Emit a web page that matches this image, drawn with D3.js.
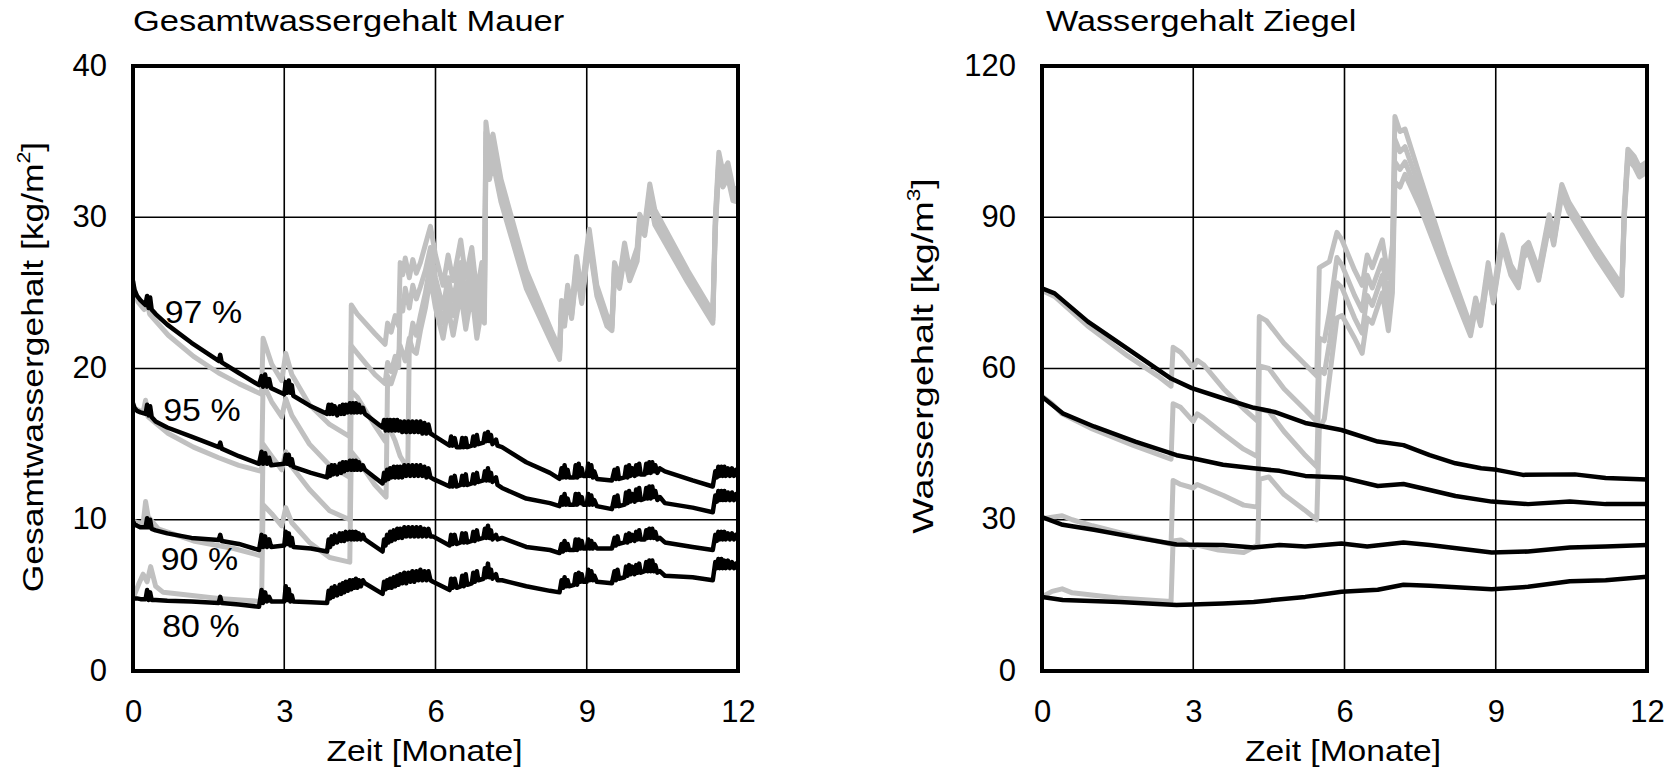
<!DOCTYPE html>
<html>
<head>
<meta charset="utf-8">
<script src="https://cdn.jsdelivr.net/npm/d3@7"></script>
<style>
  html, body { margin: 0; padding: 0; background: #fff; }
  svg { display: block; }
  text { font-family: "Liberation Sans", Arial, Helvetica, sans-serif; fill: #000; }
</style>
</head>
<body>
<svg id="chart" width="1673" height="770"></svg>
<script>
// ---- axis ticks ----
const monthTicks = [0, 3, 6, 9, 12];
const mauerTicks = [0, 10, 20, 30, 40];
const ziegelTicks = [0, 30, 60, 90, 120];

// ---- Gesamtwassergehalt Mauer [kg/m2]: common time axis [Monate] of the black series ----
const mauerZeit = [
  0, 0.03, 0.08, 0.15, 0.25, 0.28, 0.31, 0.34, 0.37, 0.45,
  0.68, 1.16, 1.7, 1.73, 1.76, 2.1, 2.5,
  2.55, 2.58, 2.62, 2.66, 2.7, 2.74,
  3.0, 3.03, 3.06, 3.09, 3.12, 3.15, 3.18, 3.53,
  3.85, 3.88, 3.91, 3.94, 3.97, 4.0, 4.05, 4.1, 4.13, 4.16,
  4.19, 4.22, 4.26, 4.3, 4.33, 4.36, 4.39, 4.42, 4.45, 4.48,
  4.52, 4.56, 4.6, 4.95,
  4.98, 5.01, 5.04, 5.07, 5.1, 5.13, 5.17, 5.2, 5.24, 5.27,
  5.3, 5.34, 5.38, 5.42, 5.46, 5.5, 5.54, 5.58, 5.62, 5.66,
  5.7, 5.74, 5.78, 5.82, 5.86, 5.9, 5.95, 6.28,
  6.31, 6.34, 6.38, 6.42, 6.5, 6.53, 6.56, 6.6, 6.63, 6.72,
  6.75, 6.78, 6.82, 6.85, 6.95, 6.98, 7.01, 7.04, 7.07, 7.1,
  7.13, 7.2, 7.23, 7.32, 7.8, 8.27, 8.46,
  8.5, 8.53, 8.56, 8.59, 8.62, 8.65, 8.75, 8.78, 8.81, 8.84,
  8.87, 8.9, 8.93, 9.0, 9.03, 9.06, 9.09, 9.12, 9.15, 9.2,
  9.5, 9.55, 9.58, 9.61, 9.64, 9.75, 9.78, 9.81, 9.84, 9.87,
  9.9, 9.95, 9.98, 10.01, 10.04, 10.07, 10.15, 10.18, 10.21, 10.24,
  10.27, 10.3, 10.33, 10.36, 10.4, 10.45, 10.55, 11.1, 11.5,
  11.55, 11.58, 11.61, 11.64, 11.67, 11.7, 11.73, 11.76, 11.8, 11.84,
  11.88, 11.92, 11.96, 12
];
const mauer97 = [
  25.8, 25.2, 24.8, 24.5, 24.2, 24.8, 24.0, 24.7, 23.9, 23.6,
  22.9, 21.7, 20.5, 20.9, 20.4, 19.7, 18.9,
  19.5, 18.8, 19.6, 18.8, 19.3, 18.7,
  18.3, 19.1, 18.4, 19.2, 18.4, 18.9, 18.2, 17.5,
  17.0, 17.6, 17.0, 17.6, 17.0, 17.5, 16.9, 17.5, 17.0, 17.6,
  17.0, 17.6, 17.1, 17.7, 17.1, 17.7, 17.1, 17.7, 17.1, 17.6,
  17.1, 17.4, 17.0, 16.1,
  16.6, 15.9, 16.6, 15.9, 16.6, 15.9, 16.6, 15.9, 16.6, 15.9,
  16.5, 15.8, 16.5, 15.8, 16.5, 15.8, 16.5, 15.8, 16.5, 15.8,
  16.5, 15.7, 16.4, 15.7, 16.3, 15.7, 15.6, 14.9,
  15.5, 14.9, 15.4, 14.8, 14.8, 15.4, 14.8, 15.4, 14.8, 14.9,
  15.5, 14.9, 15.6, 15.0, 15.1, 15.7, 15.2, 15.8, 15.2, 15.6,
  15.0, 15.3, 14.9, 14.8, 13.8, 13.1, 12.7,
  13.4, 12.8, 13.6, 12.8, 13.3, 12.8, 12.8, 13.6, 12.8, 13.7,
  12.9, 13.4, 12.9, 12.9, 13.7, 12.9, 13.6, 12.8, 13.2, 12.7,
  12.6, 13.3, 12.7, 13.4, 12.7, 12.8, 13.5, 12.8, 13.6, 12.9,
  13.4, 12.9, 13.6, 13.0, 13.7, 13.0, 13.0, 13.7, 13.1, 13.8,
  13.1, 13.8, 13.2, 13.6, 13.1, 13.4, 13.2, 12.6, 12.2,
  13.2, 12.8, 13.5, 12.9, 13.5, 12.9, 13.5, 12.9, 13.4, 12.9,
  13.4, 12.9, 13.3, 12.9
];
const mauer95 = [
  17.7, 17.4, 17.2, 17.1, 17.0, 17.6, 16.9, 17.5, 16.8, 16.5,
  16.1, 15.5, 14.8, 15.1, 14.7, 14.2, 13.7,
  14.5, 13.7, 14.4, 13.7, 14.1, 13.6,
  13.7, 14.3, 13.7, 14.3, 13.6, 14.0, 13.5, 13.1,
  12.8, 13.5, 12.9, 13.6, 13.0, 13.6, 13.0, 13.7, 13.1, 13.8,
  13.2, 13.8, 13.3, 13.9, 13.3, 13.9, 13.3, 13.9, 13.3, 13.8,
  13.3, 13.6, 13.3, 12.4,
  13.1, 12.6, 13.3, 12.7, 13.4, 12.8, 13.5, 12.8, 13.5, 12.8,
  13.5, 12.8, 13.6, 12.9, 13.6, 12.9, 13.6, 12.9, 13.6, 12.9,
  13.6, 12.9, 13.5, 12.8, 13.4, 12.8, 12.7, 12.2,
  12.8, 12.2, 12.9, 12.2, 12.3, 12.9, 12.3, 13.0, 12.3, 12.4,
  13.0, 12.4, 13.1, 12.5, 12.6, 13.2, 12.6, 13.4, 12.6, 13.1,
  12.5, 12.8, 12.3, 12.1, 11.4, 11.1, 10.9,
  11.5, 11.0, 11.7, 11.0, 11.4, 11.0, 11.0, 11.7, 11.0, 11.7,
  11.1, 11.5, 11.0, 11.0, 11.7, 11.0, 11.6, 11.0, 11.3, 10.9,
  10.7, 11.5, 10.9, 11.6, 10.9, 11.0, 11.8, 11.1, 11.9, 11.2,
  11.7, 11.2, 12.0, 11.3, 12.1, 11.3, 11.4, 12.1, 11.4, 12.2,
  11.4, 12.2, 11.5, 11.9, 11.3, 11.5, 11.1, 10.8, 10.5,
  11.6, 11.2, 11.9, 11.3, 11.9, 11.3, 11.9, 11.3, 11.8, 11.3,
  11.8, 11.3, 11.7, 11.3
];
const mauer90 = [
  9.9, 9.7, 9.6, 9.5, 9.5, 10.1, 9.5, 10.0, 9.4, 9.3,
  9.1, 8.8, 8.66, 9.0, 8.6, 8.4, 8.0,
  9.0, 8.2, 8.9, 8.2, 8.7, 8.2,
  8.3, 9.2, 8.4, 9.1, 8.3, 8.8, 8.2, 8.1,
  7.9, 8.7, 8.2, 8.9, 8.4, 9.0, 8.5, 9.1, 8.6, 9.1,
  8.6, 9.2, 8.7, 9.2, 8.7, 9.2, 8.7, 9.2, 8.7, 9.1,
  8.7, 9.0, 8.7, 7.9,
  8.7, 8.3, 9.0, 8.5, 9.2, 8.6, 9.3, 8.7, 9.4, 8.8,
  9.4, 8.8, 9.5, 8.9, 9.5, 8.9, 9.5, 8.9, 9.5, 8.9,
  9.5, 8.9, 9.4, 8.9, 9.4, 8.9, 8.9, 8.3,
  9.0, 8.4, 9.0, 8.4, 8.5, 9.1, 8.5, 9.1, 8.5, 8.6,
  9.2, 8.6, 9.3, 8.7, 8.8, 9.4, 8.8, 9.6, 8.8, 9.3,
  8.7, 9.0, 8.7, 8.8, 8.2, 8.0, 7.8,
  8.4, 7.9, 8.6, 8.0, 8.4, 8.0, 8.0, 8.7, 8.0, 8.7,
  8.1, 8.6, 8.1, 8.1, 8.7, 8.1, 8.6, 8.1, 8.4, 8.1,
  8.1, 8.8, 8.3, 8.9, 8.4, 8.5, 9.0, 8.5, 9.1, 8.6,
  9.0, 8.6, 9.2, 8.7, 9.3, 8.7, 8.7, 9.3, 8.8, 9.4,
  8.8, 9.4, 8.8, 9.2, 8.7, 8.8, 8.5, 8.2, 8.0,
  9.0, 8.6, 9.2, 8.7, 9.2, 8.7, 9.2, 8.7, 9.1, 8.7,
  9.1, 8.7, 9.0, 8.9
];
const mauer80 = [
  4.8, 4.8, 4.8, 4.75, 4.75, 5.35, 4.7, 5.2, 4.7, 4.7,
  4.65, 4.6, 4.5, 4.9, 4.5, 4.4, 4.25,
  5.35, 4.5, 5.2, 4.6, 4.9, 4.6,
  4.6, 5.6, 4.7, 5.4, 4.6, 5.0, 4.6, 4.55,
  4.5, 5.3, 4.8, 5.5, 4.9, 5.6, 5.0, 5.7, 5.1, 5.8,
  5.2, 5.9, 5.3, 6.0, 5.4, 6.0, 5.5, 6.1, 5.5, 6.0,
  5.6, 6.0, 5.8, 5.1,
  5.9, 5.4, 6.0, 5.5, 6.1, 5.5, 6.2, 5.6, 6.3, 5.7,
  6.4, 5.8, 6.5, 5.8, 6.5, 5.9, 6.6, 5.9, 6.6, 6.0,
  6.7, 6.0, 6.6, 6.0, 6.6, 6.0, 5.9, 5.35,
  6.1, 5.5, 6.1, 5.5, 5.6, 6.3, 5.6, 6.4, 5.7, 5.8,
  6.5, 5.9, 6.6, 6.0, 6.1, 6.8, 6.2, 7.1, 6.2, 6.7,
  6.1, 6.4, 6.0, 6.0, 5.6, 5.3, 5.2,
  6.0, 5.5, 6.2, 5.6, 6.0, 5.6, 5.7, 6.4, 5.7, 6.5,
  5.9, 6.4, 5.9, 5.9, 6.7, 6.0, 6.6, 6.0, 6.3, 5.9,
  5.8, 6.6, 6.0, 6.7, 6.1, 6.2, 6.9, 6.3, 7.0, 6.4,
  6.9, 6.4, 7.0, 6.5, 7.1, 6.5, 6.6, 7.2, 6.6, 7.3,
  6.6, 7.3, 6.6, 7.0, 6.5, 6.6, 6.3, 6.2, 6.0,
  7.2, 6.8, 7.4, 6.8, 7.4, 6.8, 7.3, 6.8, 7.3, 6.8,
  7.2, 6.8, 7.1, 6.7
];

// ---- Gesamtwassergehalt Mauer, grey series (Durchfeuchtung): [Monat, Wert] ----
const mauerNass1 = [[0,25.5],[0.1,24.4],[0.22,23.9],[0.27,24.6],[0.33,23.6],[0.7,22.2],[1.2,20.8],[1.7,19.7],[2.1,19.0],[2.55,18.3],[2.58,22.0],[2.75,20.3],[2.95,19.2],[3.03,21.0],[3.15,19.6],[3.5,17.6],[3.9,16.3],[4.3,15.5],[4.33,24.2],[4.45,23.6],[4.8,22.3],[5.0,21.6],[5.05,23.0],[5.12,22.4],[5.2,23.5],[5.27,22.8],[5.3,27.0],[5.35,26.2],[5.4,27.3],[5.48,26.0],[5.55,27.2],[5.62,26.3],[5.7,27.0],[5.8,28.2],[5.9,29.4],[6.0,27.5],[6.15,25.5],[6.25,27.5],[6.35,25.8],[6.5,28.5],[6.6,26.0],[6.72,28.0],[6.82,25.0],[6.92,27.0],[6.97,25.8],[7.0,36.3],[7.07,34.5],[7.14,35.5],[7.3,32.5],[7.8,26.5],[8.3,22.5],[8.46,21.3],[8.5,24.5],[8.56,23.5],[8.62,25.5],[8.7,24.0],[8.8,27.4],[8.9,25.0],[9.0,28.0],[9.05,29.2],[9.2,25.5],[9.4,23.5],[9.5,23.2],[9.55,27.0],[9.65,26.0],[9.75,28.3],[9.85,26.5],[10.0,28.0],[10.05,30.2],[10.15,29.5],[10.25,32.2],[10.35,30.5],[11.0,26.5],[11.5,23.7],[11.55,30.0],[11.62,34.3],[11.7,33.0],[11.8,33.6],[11.9,32.0],[12,31.8]];
const mauerNass2 = [[0,17.4],[0.2,17.1],[0.25,17.9],[0.3,16.8],[0.7,15.7],[1.2,14.8],[1.7,14.1],[2.1,13.6],[2.55,13.2],[2.58,19.0],[2.75,17.8],[2.95,16.8],[3.03,18.0],[3.15,16.9],[3.5,15.0],[3.9,13.6],[4.3,12.8],[4.33,21.5],[4.45,21.0],[4.8,19.6],[5.0,19.0],[5.05,20.4],[5.12,19.8],[5.2,20.8],[5.27,20.1],[5.3,24.5],[5.35,23.8],[5.4,25.3],[5.48,24.0],[5.55,25.5],[5.62,24.6],[5.7,25.4],[5.8,26.5],[5.9,28.0],[6.0,26.0],[6.15,24.0],[6.25,26.0],[6.35,24.5],[6.5,27.0],[6.6,24.8],[6.72,27.0],[6.82,24.0],[6.92,26.0],[6.97,24.8],[7.0,35.6],[7.07,34.0],[7.14,35.0],[7.3,32.0],[7.8,26.0],[8.3,22.2],[8.46,21.0],[8.5,24.2],[8.56,23.2],[8.62,25.2],[8.7,23.7],[8.8,27.0],[8.9,24.7],[9.0,27.6],[9.05,28.8],[9.2,25.2],[9.4,23.2],[9.5,22.9],[9.55,26.7],[9.65,25.7],[9.75,28.0],[9.85,26.2],[10.0,27.7],[10.05,29.9],[10.15,29.2],[10.25,31.8],[10.35,30.1],[11.0,26.2],[11.5,23.4],[11.55,29.7],[11.62,33.9],[11.7,32.6],[11.8,33.2],[11.9,31.7],[12,31.5]];
const mauerNass3 = [[0,9.9],[0.2,9.7],[0.25,11.2],[0.3,10.2],[0.5,9.4],[1.2,8.6],[2.0,8.1],[2.55,7.6],[2.58,15.0],[2.75,14.2],[2.95,13.3],[3.03,14.5],[3.15,13.5],[3.5,12.0],[3.9,10.6],[4.3,10.0],[4.33,18.5],[4.45,18.1],[4.8,16.2],[5.0,15.2],[5.05,16.4],[5.12,15.8],[5.2,15.2],[5.3,14.2],[5.45,13.4],[5.48,21.5],[5.55,23.0],[5.62,22.2],[5.7,23.5],[5.8,25.0],[5.9,27.0],[6.0,25.0],[6.15,23.0],[6.25,25.0],[6.35,23.5],[6.5,26.0],[6.6,23.8],[6.72,26.0],[6.82,23.0],[6.92,25.0],[6.97,23.8],[7.0,34.6],[7.07,33.2],[7.14,34.3],[7.3,31.5],[7.8,25.6],[8.3,21.9],[8.46,20.8],[8.5,24.0],[8.56,23.0],[8.62,25.0],[8.7,23.5],[8.8,26.7],[8.9,24.5],[9.0,27.3],[9.05,28.5],[9.2,25.0],[9.4,23.0],[9.5,22.7],[9.55,26.4],[9.65,25.5],[9.75,27.7],[9.85,26.0],[10.0,27.4],[10.05,29.6],[10.15,29.0],[10.25,31.5],[10.35,29.8],[11.0,25.9],[11.5,23.2],[11.55,29.4],[11.62,33.6],[11.7,32.3],[11.8,32.9],[11.9,31.4],[12,31.2]];
const mauerNass4 = [[0,4.8],[0.12,5.8],[0.2,6.4],[0.28,5.9],[0.35,6.9],[0.45,5.6],[0.6,5.2],[1.7,4.8],[2.55,4.6],[2.58,11.0],[2.75,10.4],[2.95,9.6],[3.03,10.8],[3.15,9.8],[3.5,8.5],[3.9,7.5],[4.3,7.2],[4.33,14.5],[4.45,14.0],[4.8,12.3],[5.02,11.5],[5.05,19.5],[5.12,19.0],[5.2,19.8],[5.3,21.5],[5.4,20.5],[5.48,22.0],[5.55,21.2],[5.62,21.0],[5.7,22.5],[5.8,24.0],[5.9,26.0],[6.0,24.0],[6.15,22.0],[6.25,24.0],[6.35,22.2],[6.5,25.0],[6.6,22.6],[6.72,25.0],[6.82,22.0],[6.92,24.0],[6.97,23.0],[7.0,33.6],[7.07,32.5],[7.14,33.6],[7.3,31.0],[7.8,25.3],[8.3,21.7],[8.46,20.6],[8.5,23.8],[8.56,22.8],[8.62,24.8],[8.7,23.3],[8.8,26.4],[8.9,24.3],[9.0,27.0],[9.05,28.2],[9.2,24.8],[9.4,22.8],[9.5,22.5],[9.55,26.1],[9.65,25.3],[9.75,27.4],[9.85,25.8],[10.0,27.1],[10.05,29.3],[10.15,28.8],[10.25,31.2],[10.35,29.5],[11.0,25.7],[11.5,23.0],[11.55,29.1],[11.62,33.3],[11.7,32.0],[11.8,32.6],[11.9,31.1],[12,31.0]];

// ---- Wassergehalt Ziegel [kg/m3], black series: [Monat, Wert] ----
const ziegel97 = [[0,75.9],[0.25,74.9],[0.91,69.3],[1.73,63.7],[2.56,58.0],[2.97,56.1],[3.59,54.1],[4.2,52.2],[4.61,51.4],[5.22,49.2],[5.94,47.8],[6.66,45.5],[7.17,44.8],[7.69,42.8],[8.2,41.2],[8.71,40.2],[9.02,39.9],[9.54,38.9],[10.57,39.0],[11.18,38.3],[12,38.0]];
const ziegel95 = [[0,54.4],[0.41,51.1],[1.03,48.5],[1.85,45.5],[2.67,42.8],[3.08,42.0],[3.59,40.9],[4.2,40.2],[4.71,39.7],[5.22,38.7],[5.94,38.4],[6.66,36.7],[7.17,37.1],[7.69,35.9],[8.2,34.7],[8.92,33.6],[9.64,33.1],[10.47,33.6],[11.18,33.1],[12,33.1]];
const ziegel90 = [[0,30.5],[0.41,29.0],[1.03,28.0],[1.85,26.5],[2.67,25.1],[3.59,25.0],[4.2,24.5],[4.71,25.0],[5.22,24.7],[5.94,25.3],[6.45,24.7],[7.17,25.5],[7.69,25.0],[8.92,23.5],[9.64,23.7],[10.47,24.5],[11.18,24.7],[12,25.0]];
const ziegel80 = [[0,14.7],[0.41,14.1],[1.54,13.7],[2.67,13.1],[3.59,13.4],[4.2,13.7],[5.22,14.7],[5.94,15.7],[6.66,16.1],[7.17,17.1],[7.69,16.9],[8.92,16.2],[9.64,16.7],[10.47,17.8],[11.18,18.0],[12,18.7]];

// ---- Wassergehalt Ziegel, grey series ----
const ziegelNass1 = [[0,75.5],[0.25,74.3],[0.9,68.5],[1.7,62.5],[2.3,58.5],[2.56,56.5],[2.6,64.2],[2.75,63.2],[3.0,60.2],[3.08,61.6],[3.2,60.8],[3.6,56.0],[4.0,52.0],[4.28,49.5],[4.31,70.3],[4.45,69.5],[4.8,65.0],[5.2,61.0],[5.45,58.5],[5.5,80.0],[5.7,81.2],[5.85,87.0],[5.95,85.5],[6.2,79.5],[6.35,76.5],[6.45,82.5],[6.55,80.0],[6.75,85.5],[6.87,78.0],[6.95,84.5],[7.0,110.0],[7.1,107.0],[7.2,107.5],[7.5,98.0],[8.0,82.5],[8.5,68.5],[8.6,74.0],[8.7,70.5],[8.85,81.0],[8.95,75.0],[9.13,86.5],[9.3,80.5],[9.45,78.0],[9.55,84.0],[9.65,85.0],[9.85,79.5],[10.06,90.5],[10.15,86.5],[10.31,96.5],[10.45,93.0],[11.0,84.0],[11.5,76.5],[11.55,92.0],[11.62,103.5],[11.75,102.0],[11.85,100.0],[12,101.0]];
const ziegelNass2 = [[0,54.5],[0.2,53.0],[0.4,51.0],[1.0,48.0],[1.8,44.8],[2.56,42.0],[2.6,53.0],[2.75,52.3],[3.0,49.5],[3.08,51.0],[3.2,50.2],[3.6,47.0],[4.0,44.0],[4.28,42.5],[4.31,60.5],[4.5,60.0],[4.8,56.0],[5.2,52.0],[5.45,49.5],[5.5,66.0],[5.6,65.5],[5.7,71.0],[5.85,82.0],[5.95,80.5],[6.2,74.5],[6.35,71.5],[6.45,78.5],[6.55,76.0],[6.75,81.5],[6.87,73.5],[6.95,80.5],[7.0,105.5],[7.1,103.0],[7.2,104.0],[7.5,95.5],[8.0,81.0],[8.5,67.5],[8.6,73.0],[8.7,69.5],[8.85,80.0],[8.95,74.0],[9.13,85.5],[9.3,79.5],[9.45,77.0],[9.55,83.0],[9.65,84.0],[9.85,78.5],[10.06,89.5],[10.15,85.5],[10.31,95.5],[10.45,92.0],[11.0,83.0],[11.5,75.5],[11.55,91.0],[11.62,102.5],[11.75,101.0],[11.85,99.0],[12,100.0]];
const ziegelNass3 = [[0,30.2],[0.2,30.5],[0.4,30.8],[0.6,30.0],[1.0,28.8],[1.8,26.8],[2.56,25.2],[2.6,37.8],[2.75,37.0],[3.0,36.3],[3.08,37.0],[3.2,36.5],[3.6,34.8],[4.0,32.9],[4.28,32.5],[4.31,52.0],[4.5,51.5],[4.8,47.5],[5.2,43.0],[5.45,40.5],[5.5,60.0],[5.6,59.0],[5.7,65.0],[5.85,77.0],[5.95,76.0],[6.2,70.0],[6.35,67.0],[6.45,74.5],[6.55,72.5],[6.75,78.5],[6.87,70.5],[6.95,77.5],[7.0,101.0],[7.1,99.5],[7.2,101.0],[7.5,93.5],[8.0,80.0],[8.5,67.0],[8.6,72.5],[8.7,69.0],[8.85,79.5],[8.95,73.5],[9.13,85.0],[9.3,79.0],[9.45,76.5],[9.55,82.5],[9.65,83.5],[9.85,78.0],[10.06,89.0],[10.15,85.0],[10.31,95.0],[10.45,91.5],[11.0,82.5],[11.5,75.0],[11.55,90.5],[11.62,102.0],[11.75,100.5],[11.85,98.5],[12,99.5]];
const ziegelNass4 = [[0,14.7],[0.2,15.8],[0.4,16.3],[0.6,15.5],[1.5,14.5],[2.56,13.8],[2.6,25.8],[2.75,26.0],[3.0,24.5],[3.08,25.0],[3.5,24.0],[4.0,23.5],[4.28,25.0],[4.31,38.0],[4.5,38.5],[4.8,35.0],[5.2,32.0],[5.45,30.0],[5.5,48.0],[5.6,50.0],[5.7,58.0],[5.85,70.0],[5.95,70.5],[6.2,66.0],[6.35,63.0],[6.45,70.0],[6.55,69.0],[6.75,75.0],[6.87,67.5],[6.95,75.0],[7.0,97.0],[7.1,96.0],[7.2,98.5],[7.5,92.0],[8.0,79.0],[8.5,66.5],[8.6,72.0],[8.7,68.5],[8.85,79.0],[8.95,73.0],[9.13,84.5],[9.3,78.5],[9.45,76.0],[9.55,82.0],[9.65,83.0],[9.85,77.5],[10.06,88.5],[10.15,84.5],[10.31,94.5],[10.45,91.0],[11.0,82.0],[11.5,74.5],[11.55,90.0],[11.62,101.5],[11.75,100.0],[11.85,98.0],[12,99.0]];

// ---- curve labels in the left panel ----
const mauerLabels = [
  { text: "97 %", t: 0.63, v: 23.0 },
  { text: "95 %", t: 0.6, v: 16.5 },
  { text: "90 %", t: 0.55, v: 6.7 },
  { text: "80 %", t: 0.58, v: 2.25 }
];

const svg = d3.select("#chart");
const W = 605, H = 605;
const pairs = (times, values) => d3.zip(times, values);

function panel(opt) {
  const g = svg.append("g").attr("transform", `translate(${opt.left},66)`);
  const x = d3.scaleLinear().domain([0, 12]).range([0, W]);
  const y = d3.scaleLinear().domain([0, opt.max]).range([H, 0]);

  // grid
  g.append("g").selectAll("line").data(monthTicks.slice(1, -1)).join("line")
    .attr("x1", d => x(d)).attr("x2", d => x(d)).attr("y1", 0).attr("y2", H)
    .attr("stroke", "#000").attr("stroke-width", 1.6);
  g.append("g").selectAll("line").data(opt.ticks.slice(1, -1)).join("line")
    .attr("y1", d => y(d)).attr("y2", d => y(d)).attr("x1", 0).attr("x2", W)
    .attr("stroke", "#000").attr("stroke-width", 1.6);

  // data
  const line = d3.line().x(d => x(d[0])).y(d => y(d[1]));
  const clipId = "clip" + opt.left;
  g.append("clipPath").attr("id", clipId).append("rect").attr("width", W).attr("height", H);
  const dataG = g.append("g").attr("clip-path", `url(#${clipId})`);
  opt.grey.forEach(s => dataG.append("path").attr("d", line(s)).attr("fill", "none")
    .attr("stroke", "#c0c0c0").attr("stroke-width", 5).attr("stroke-linejoin", "round"));
  opt.black.forEach(s => dataG.append("path").attr("d", line(s)).attr("fill", "none")
    .attr("stroke", "#000").attr("stroke-width", 4.5).attr("stroke-linejoin", "round"));

  // frame
  g.append("rect").attr("width", W).attr("height", H).attr("fill", "none")
    .attr("stroke", "#000").attr("stroke-width", 4);

  // y axis
  const yg = g.append("g").call(d3.axisLeft(y).tickValues(opt.ticks).tickSize(0).tickPadding(26));
  yg.select(".domain").remove();
  yg.selectAll("text").attr("font-size", 31).attr("font-family", null).attr("dy", "0.29em");

  // x axis
  const xg = g.append("g").attr("transform", `translate(0,${H})`)
    .call(d3.axisBottom(x).tickValues(monthTicks).tickSize(0).tickPadding(0));
  xg.select(".domain").remove();
  xg.selectAll("text").attr("font-size", 31).attr("font-family", null).attr("dy", null).attr("y", 51);

  // title
  g.append("text").attr("transform", `translate(${opt.titleX},-35) scale(${opt.titleSx},1)`)
    .attr("font-size", 30).text(opt.title);

  // x label
  g.append("text").attr("transform", `translate(${opt.xlabX},${761 - 66}) scale(1.12,1)`)
    .attr("text-anchor", "middle").attr("font-size", 30).text("Zeit [Monate]");

  // y label
  const yl = g.append("text")
    .attr("transform", `translate(${opt.ylabX},${opt.ylabY}) rotate(-90) scale(${opt.ylabSx},1)`)
    .attr("text-anchor", "middle").attr("font-size", 30);
  yl.append("tspan").text(opt.ylab);
  yl.append("tspan").attr("font-size", 18).attr("dy", -13).text(opt.ylabSup);
  yl.append("tspan").attr("dy", 13).text("]");

  return { g, x, y };
}

const left = panel({
  left: 133, max: 40, ticks: mauerTicks,
  black: [pairs(mauerZeit, mauer97), pairs(mauerZeit, mauer95), pairs(mauerZeit, mauer90), pairs(mauerZeit, mauer80)],
  grey: [mauerNass1, mauerNass2, mauerNass3, mauerNass4],
  title: "Gesamtwassergehalt Mauer", titleX: 0, titleSx: 1.15,
  xlabX: 291.5, ylabX: 43 - 133, ylabY: 367 - 66, ylabSx: 1.18,
  ylab: "Gesamtwassergehalt [kg/m", ylabSup: "2"
});

left.g.append("g").selectAll("text").data(mauerLabels).join("text")
  .attr("transform", d => `translate(${left.x(d.t)},${left.y(d.v)}) scale(1.06,1)`)
  .attr("font-size", 32).text(d => d.text);

panel({
  left: 1042, max: 120, ticks: ziegelTicks,
  black: [ziegel97, ziegel95, ziegel90, ziegel80],
  grey: [ziegelNass1, ziegelNass2, ziegelNass3, ziegelNass4],
  title: "Wassergehalt Ziegel", titleX: 4, titleSx: 1.14,
  xlabX: 301, ylabX: 933 - 1042, ylabY: 356 - 66, ylabSx: 1.26,
  ylab: "Wassergehalt [kg/m", ylabSup: "3"
});
</script>
</body>
</html>
